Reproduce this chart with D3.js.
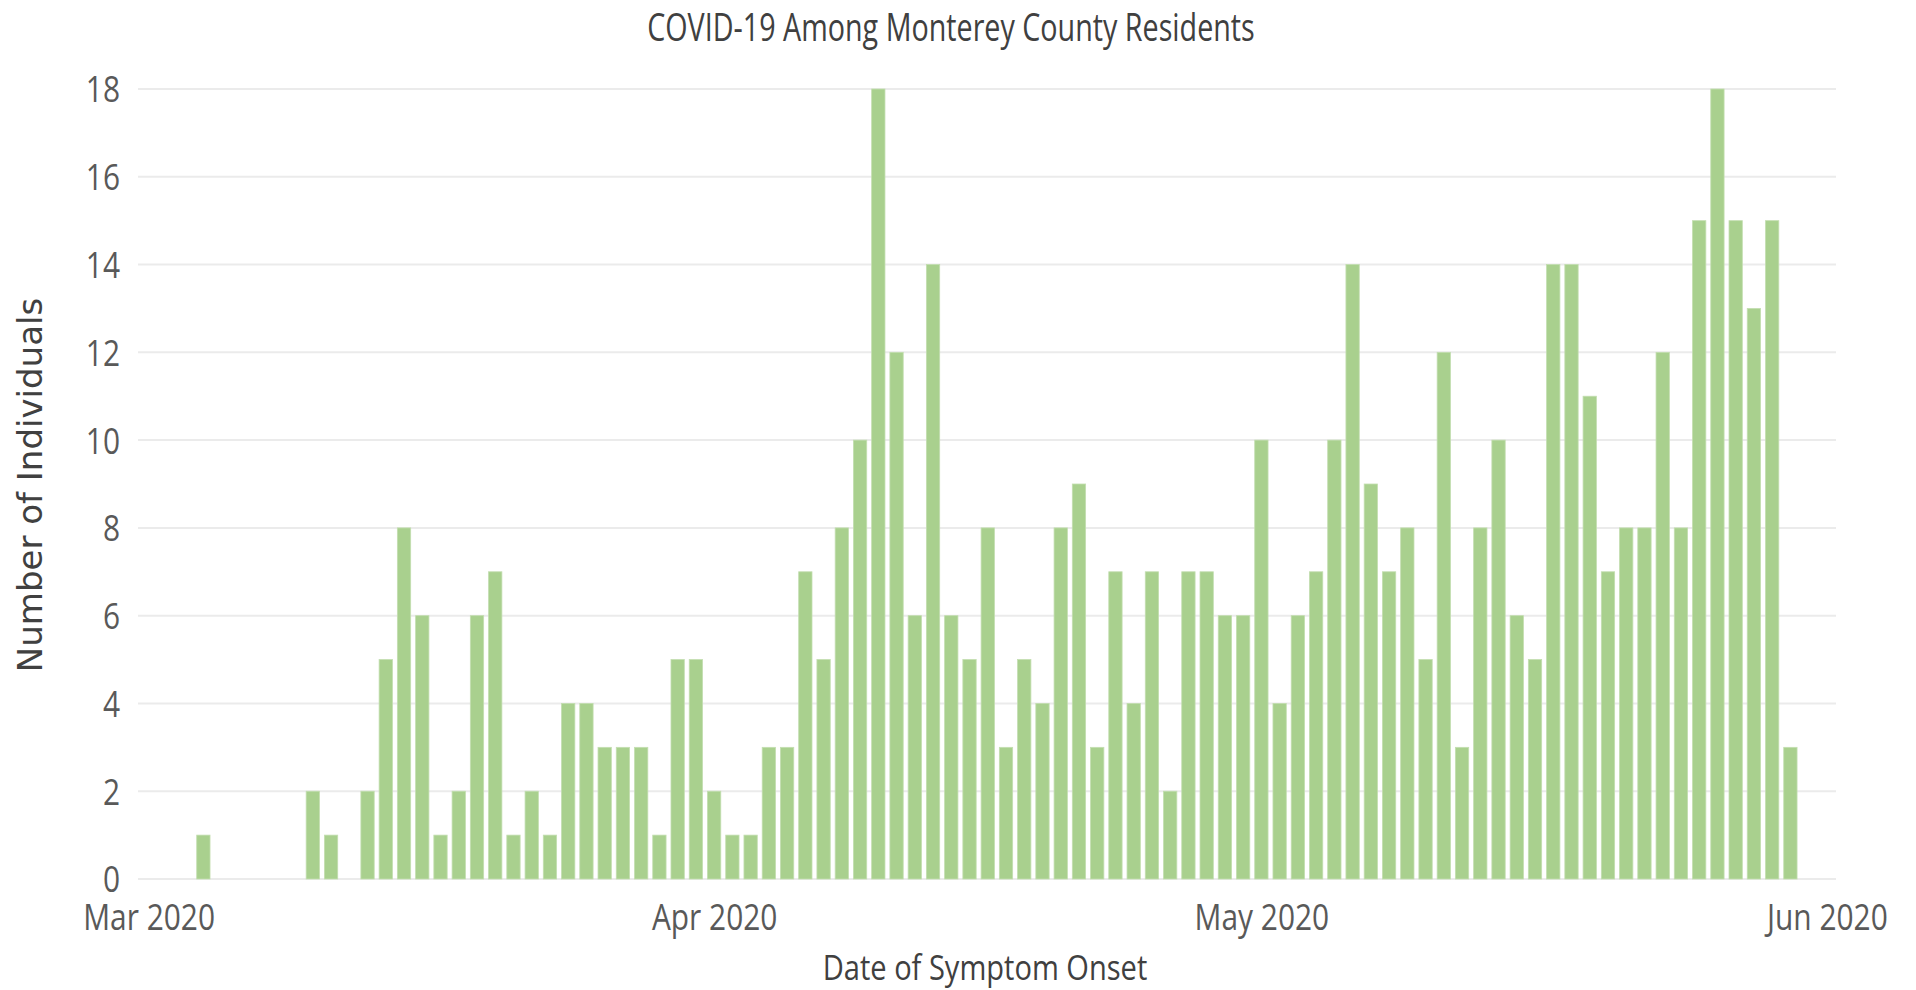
<!DOCTYPE html>
<html>
<head>
<meta charset="utf-8">
<script src="https://cdn.jsdelivr.net/npm/d3@7"></script>
<style>
  body { margin: 0; background: #fff; }
  text { font-family: "Open Sans", sans-serif; }
</style>
</head>
<body>
<script>
// daily counts by symptom onset date, starting Mar 1 2020
var firstDay = "2020-03-01";
var marchCounts = [0, 0, 0, 1, 0, 0, 0, 0, 0, 2, 1, 0, 2, 5, 8, 6, 1, 2, 6, 7, 1, 2, 1, 4, 4, 3, 3, 3, 1, 5, 5];
var aprilCounts = [2, 1, 1, 3, 3, 7, 5, 8, 10, 18, 12, 6, 14, 6, 5, 8, 3, 5, 4, 8, 9, 3, 7, 4, 7, 2, 7, 7, 6, 6];
var mayCounts = [10, 4, 6, 7, 10, 14, 9, 7, 8, 5, 12, 3, 8, 10, 6, 5, 14, 14, 11, 7, 8, 8, 12, 8, 15, 18, 15, 13, 15, 3];
var yTicks = [0, 2, 4, 6, 8, 10, 12, 14, 16, 18];
var monthTicks = ["2020-03-01", "2020-04-01", "2020-05-01", "2020-06-01"];

var parse = d3.timeParse("%Y-%m-%d");
var counts = marchCounts.concat(aprilCounts, mayCounts);
var start = parse(firstDay);
var days = counts.map(function (c, i) {
  return { date: d3.timeDay.offset(start, i), value: c };
});

var width = 1916, height = 990;
var plotLeft = 138, plotRight = 1836, plotTop = 89, plotBottom = 879;

var svg = d3.select("body").append("svg")
  .attr("width", width)
  .attr("height", height);

// half a day of padding at each end, like the excel date axis
var x = d3.scaleTime()
  .domain([d3.timeHour.offset(start, -14), d3.timeHour.offset(parse("2020-06-01"), 12)])
  .range([plotLeft, plotRight]);
var y = d3.scaleLinear().domain([0, 18]).range([plotBottom, plotTop]);

var dayW = x(d3.timeDay.offset(start, 1)) - x(start);
var barW = dayW * 0.73;

function condense(sel, k) {
  sel.each(function () {
    var w = this.getComputedTextLength();
    d3.select(this).attr("textLength", w * k).attr("lengthAdjust", "spacingAndGlyphs");
  });
}

// gridlines
svg.append("g")
  .selectAll("line")
  .data(yTicks)
  .enter()
  .append("line")
  .attr("x1", plotLeft)
  .attr("x2", plotRight)
  .attr("y1", function (d) { return y(d); })
  .attr("y2", function (d) { return y(d); })
  .attr("stroke", "#ebebeb")
  .attr("stroke-width", 2);

// bars
svg.append("g")
  .selectAll("rect")
  .data(days.filter(function (d) { return d.value > 0; }))
  .enter()
  .append("rect")
  .attr("x", function (d) { return x(d.date) - barW / 2; })
  .attr("width", barW)
  .attr("y", function (d) { return y(d.value); })
  .attr("height", function (d) { return y(0) - y(d.value); })
  .attr("fill", "#a9d08e")
  .attr("stroke", "#c3deb0")
  .attr("stroke-width", 0.8);

// y axis
var yAxis = svg.append("g")
  .attr("transform", "translate(" + plotLeft + ",0)")
  .call(d3.axisLeft(y).tickValues(yTicks).tickSize(0).tickPadding(18));
yAxis.select(".domain").remove();
yAxis.selectAll("text")
  .attr("font-family", "Open Sans")
  .attr("font-size", 36)
  .attr("fill", "#595959")
  .attr("dy", "0.36em")
  .call(condense, 0.83);

// x axis
var xAxis = svg.append("g")
  .attr("transform", "translate(0," + plotBottom + ")")
  .call(d3.axisBottom(x)
    .tickValues(monthTicks.map(parse))
    .tickFormat(d3.timeFormat("%b %Y"))
    .tickSize(0));
xAxis.select(".domain").remove();
xAxis.selectAll("text")
  .attr("font-family", "Open Sans")
  .attr("font-size", 36)
  .attr("fill", "#595959")
  .attr("y", 51)
  .attr("dy", 0)
  .call(condense, 0.83);

// titles
svg.append("text")
  .attr("x", 951)
  .attr("y", 41)
  .attr("text-anchor", "middle")
  .attr("font-size", 38)
  .attr("fill", "#404040")
  .text("COVID-19 Among Monterey County Residents")
  .call(condense, 0.755);

svg.append("text")
  .attr("x", 985)
  .attr("y", 980)
  .attr("text-anchor", "middle")
  .attr("font-size", 35)
  .attr("fill", "#404040")
  .text("Date of Symptom Onset")
  .call(condense, 0.83);

svg.append("text")
  .attr("transform", "translate(42,485) rotate(-90)")
  .attr("text-anchor", "middle")
  .style("font-family", "DejaVu Sans")
  .attr("font-size", 34)
  .attr("fill", "#404040")
  .text("Number of Individuals");
</script>
</body>
</html>
